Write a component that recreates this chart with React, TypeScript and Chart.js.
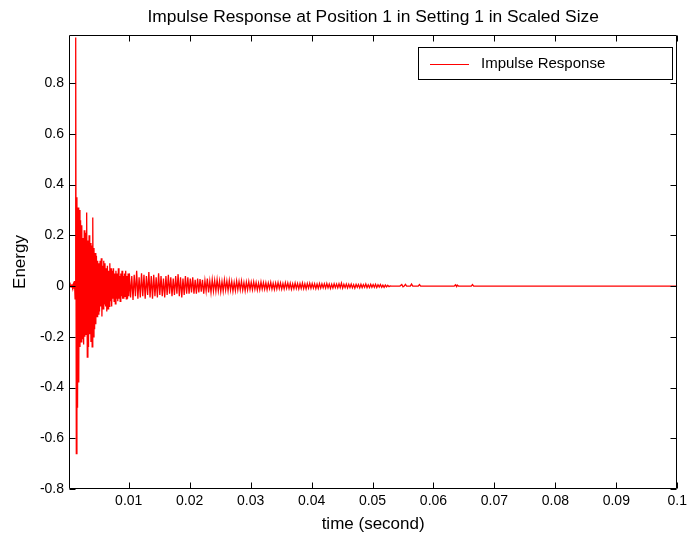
import { useEffect, useRef } from "react";
import { Chart, registerables } from "chart.js";

Chart.register(...registerables);

const chartTitle = "Impulse Response at Position 1 in Setting 1 in Scaled Size";
const xAxisTitle = "time (second)";
const yAxisTitle = "Energy";
const seriesLabel = "Impulse Response";

const xMin = 0.0002;
const xMax = 0.1;
const yMin = -0.8;
const yMax = 0.99;

const xTickValues = [0.01, 0.02, 0.03, 0.04, 0.05, 0.06, 0.07, 0.08, 0.09, 0.1];
const xTickLabels = ["0.01", "0.02", "0.03", "0.04", "0.05", "0.06", "0.07", "0.08", "0.09", "0.1"];
const yTickValues = [-0.8, -0.6, -0.4, -0.2, 0, 0.2, 0.4, 0.6, 0.8];
const yTickLabels = ["-0.8", "-0.6", "-0.4", "-0.2", "0", "0.2", "0.4", "0.6", "0.8"];

// Early part: sampled every 0.1 ms starting at 0.2 ms
const earlyStartTime = 0.0002;
const earlyStepTime = 0.0001;
const earlyEnergy = [
  0, 0.002, -0.003, 0.004, -0.002, 0.003, -0.004, 0.006, -0.01, 0.02,
  -0.05, 0.98, -0.66, 0.35, -0.48, 0.31, -0.38, 0.3, -0.24, 0.26,
  -0.22, 0.24, -0.21, 0.19, -0.23, 0.22, -0.2, 0.21, -0.19, 0.29,
  -0.28, 0.18, -0.24, 0.2, -0.19, 0.17, -0.22, 0.16, -0.24, 0.27,
  -0.2, 0.15, -0.17, 0.13, -0.15, 0.12, -0.12, 0.1, -0.11, 0.09,
  -0.1, 0.1, -0.08, 0.11, -0.12, 0.08, -0.09, 0.1, -0.07, 0.09,
  -0.08, 0.07, -0.1, 0.08, -0.09, 0.06, -0.08, 0.09, -0.06, 0.07,
  -0.08, 0.06, -0.05, 0.07, -0.06, 0.05, -0.07, 0.06, -0.05, 0.05,
  -0.06, 0.07, -0.05, 0.04, -0.06, 0.05, -0.04, 0.06, -0.05, 0.04,
  -0.05, 0.05, -0.04, 0.06, -0.05, 0.04, -0.05, 0.05, -0.04,
];

// Later decay: sampled every 0.2 ms starting at 10.1 ms
const lateStartTime = 0.0101;
const lateStepTime = 0.0002;
const lateEnergy = [
  0.05, -0.045, 0.04, -0.055, 0.045, -0.04, 0.06, -0.05, 0.035, -0.045,
  0.05, -0.04, 0.045, -0.05, 0.04, -0.035, 0.055, -0.045, 0.04, -0.05,
  0.045, -0.04, 0.035, -0.045, 0.05, -0.035, 0.04, -0.04, 0.03, -0.045,
  0.04, -0.035, 0.045, -0.03, 0.035, -0.04, 0.03, -0.035, 0.04, -0.03,
  0.047, -0.04, 0.035, -0.045, 0.03, -0.035, 0.04, -0.03, 0.035, -0.03,
  0.03, -0.025, 0.035, -0.03, 0.025, -0.03, 0.03, -0.025, 0.028, -0.022,
  0.025, -0.03, 0.022, -0.02, 0.03, -0.025, 0.02, -0.025, 0.025, -0.02,
  0.022, -0.02, 0.025, -0.018, 0.02, -0.022, 0.018, -0.02, 0.024, -0.016,
  0.02, -0.018, 0.022, -0.016, 0.018, -0.02, 0.015, -0.018, 0.02, -0.015,
  0.018, -0.015, 0.02, -0.016, 0.014, -0.018, 0.016, -0.014, 0.018, -0.013,
  0.015, -0.014, 0.017, -0.012, 0.014, -0.015, 0.012, -0.014, 0.016, -0.012,
  0.014, -0.012, 0.013, -0.014, 0.012, -0.01, 0.015, -0.012, 0.011, -0.013,
  0.012, -0.011, 0.014, -0.01, 0.012, -0.012, 0.01, -0.011, 0.013, -0.009,
  0.012, -0.01, 0.011, -0.012, 0.009, -0.01, 0.012, -0.009, 0.01, -0.011,
  0.01, -0.009, 0.012, -0.01, 0.009, -0.011, 0.01, -0.008, 0.011, -0.009,
  0.01, -0.008, 0.009, -0.01, 0.008, -0.009, 0.01, -0.008, 0.009, -0.007,
  0.009, -0.008, 0.01, -0.007, 0.008, -0.009, 0.007, -0.008, 0.009, -0.006,
  0.008, -0.007, 0.009, -0.006, 0.012, -0.008, 0.007, -0.006, 0.008, -0.007,
  0.007, -0.006, 0.008, -0.007, 0.006, -0.008, 0.007, -0.005, 0.006, -0.007,
  0.007, -0.006, 0.006, -0.005, 0.008, -0.006, 0.005, -0.006, 0.007, -0.005,
  0.006, -0.005, 0.007, -0.006, 0.005, -0.004, 0.006, -0.005, 0.004, -0.005,
  0.004, -0.003, 0.003, -0.002, 0.001, 0,
];

// Sparse tail: isolated small blips, then silence to the end
const tailTimes = [
  0.0545, 0.0548, 0.055, 0.0552, 0.0554, 0.0556, 0.0562, 0.0564, 0.0566, 0.0575,
  0.0577, 0.0579, 0.0634, 0.0636, 0.0638, 0.0639, 0.0641, 0.0662, 0.0664, 0.0666, 0.1,
];
const tailEnergy = [
  0, 0.006, -0.003, 0, 0.007, 0, 0, 0.008, 0, 0,
  0.006, 0, 0, 0.005, -0.002, 0.004, 0, 0, 0.006, 0, 0,
];

const FONT = "'Liberation Sans', Arial, Helvetica, sans-serif";

function buildPoints() {
  const pts: { x: number; y: number }[] = [];
  earlyEnergy.forEach((v, i) => pts.push({ x: earlyStartTime + i * earlyStepTime, y: v }));
  lateEnergy.forEach((v, i) => pts.push({ x: lateStartTime + i * lateStepTime, y: v }));
  tailTimes.forEach((t, i) => pts.push({ x: t, y: tailEnergy[i] }));
  return pts;
}

const framePlugin = {
  id: "matlabFrame",
  afterDraw(chart: any) {
    const { ctx, chartArea, scales } = chart;
    const { left, right, top, bottom } = chartArea;
    const xs = scales.x;
    const ys = scales.y;
    const L = Math.round(left) + 0.5;
    const R = Math.round(right) - 0.5;
    const T = Math.round(top) + 0.5;
    const B = Math.round(bottom) - 0.5;
    const tick = 6;
    ctx.save();
    ctx.strokeStyle = "#000";
    ctx.lineWidth = 1;
    ctx.beginPath();
    ctx.rect(L, T, R - L, B - T);
    ctx.stroke();
    ctx.beginPath();
    xTickValues.forEach((v) => {
      const px = Math.round(xs.getPixelForValue(v)) + 0.5;
      ctx.moveTo(px, B);
      ctx.lineTo(px, B - tick);
      ctx.moveTo(px, T);
      ctx.lineTo(px, T + tick);
    });
    yTickValues.forEach((v) => {
      const py = Math.round(ys.getPixelForValue(v)) + 0.5;
      ctx.moveTo(L, py);
      ctx.lineTo(L + tick, py);
      ctx.moveTo(R, py);
      ctx.lineTo(R - tick, py);
    });
    ctx.stroke();

    // legend box
    const bx = 418.5, by = 47.5, bw = 254, bh = 32;
    ctx.fillStyle = "#fff";
    ctx.fillRect(bx, by, bw, bh);
    ctx.strokeStyle = "#000";
    ctx.strokeRect(bx, by, bw, bh);
    const ds = chart.data.datasets[0];
    const ly = by + bh / 2;
    ctx.strokeStyle = ds.borderColor;
    ctx.lineWidth = 1;
    ctx.beginPath();
    ctx.moveTo(430, Math.round(ly) + 0.5);
    ctx.lineTo(469, Math.round(ly) + 0.5);
    ctx.stroke();
    ctx.fillStyle = "#000";
    ctx.font = `15px ${FONT}`;
    ctx.textAlign = "left";
    ctx.textBaseline = "middle";
    ctx.fillText(ds.label, 481, ly);
    ctx.restore();
  },
};

export default function App() {
  const canvasRef = useRef<HTMLCanvasElement | null>(null);

  useEffect(() => {
    const canvas = canvasRef.current;
    if (!canvas) return;
    Chart.defaults.font.family = FONT;
    Chart.defaults.color = "#000";
    const chart = new Chart(canvas, {
      type: "line",
      data: {
        datasets: [
          {
            label: seriesLabel,
            data: buildPoints(),
            borderColor: "#ff0000",
            backgroundColor: "#ff0000",
            borderWidth: 1.3,
            pointRadius: 0,
            tension: 0,
            fill: false,
          },
        ],
      },
      options: {
        responsive: false,
        animation: false,
        events: [],
        layout: { padding: { left: 0, right: 11, top: 0, bottom: 0 } },
        plugins: {
          legend: { display: false },
          tooltip: { enabled: false },
          title: {
            display: true,
            fullSize: false,
            text: chartTitle,
            color: "#000",
            font: { size: 17.4, weight: "normal", family: FONT },
            padding: { top: 7, bottom: 7.1 },
          },
        },
        scales: {
          x: {
            type: "linear",
            min: xMin,
            max: xMax,
            grid: { display: false, drawTicks: false },
            border: { display: false },
            afterBuildTicks: (scale: any) => {
              scale.ticks = xTickValues.map((v) => ({ value: v }));
            },
            afterFit: (scale: any) => {
              scale.height = 46;
            },
            ticks: {
              autoSkip: false,
              maxRotation: 0,
              padding: 4,
              color: "#000",
              font: { size: 14, family: FONT },
              callback: (value: any) => {
                const i = xTickValues.findIndex((v) => Math.abs(v - Number(value)) < 1e-9);
                return i >= 0 ? xTickLabels[i] : "";
              },
            },
            title: {
              display: true,
              text: xAxisTitle,
              color: "#000",
              font: { size: 17, family: FONT },
              padding: { top: 0, bottom: 0 },
            },
          },
          y: {
            type: "linear",
            min: yMin,
            max: yMax,
            grid: { display: false, drawTicks: false },
            border: { display: false },
            afterBuildTicks: (scale: any) => {
              scale.ticks = yTickValues.map((v) => ({ value: v }));
            },
            afterFit: (scale: any) => {
              scale.width = 69;
            },
            ticks: {
              autoSkip: false,
              padding: 5,
              color: "#000",
              font: { size: 14, family: FONT },
              callback: (value: any) => {
                const i = yTickValues.findIndex((v) => Math.abs(v - Number(value)) < 1e-9);
                return i >= 0 ? yTickLabels[i] : "";
              },
            },
            title: {
              display: true,
              text: yAxisTitle,
              color: "#000",
              font: { size: 17, family: FONT },
              padding: { top: 10, bottom: 0 },
            },
          },
        },
      },
      plugins: [framePlugin],
    } as any);
    return () => chart.destroy();
  }, []);

  return (
    <div style={{ position: "fixed", left: 0, top: 0, width: 691, height: 535, background: "#fff" }}>
      <canvas ref={canvasRef} width={691} height={535} style={{ display: "block" }} />
    </div>
  );
}
